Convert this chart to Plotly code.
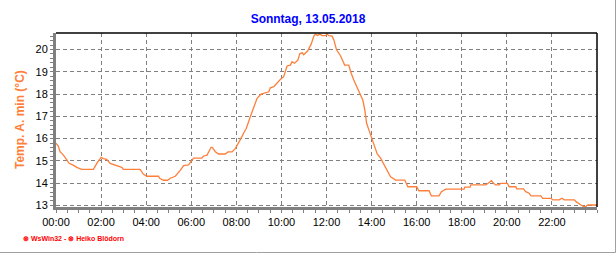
import plotly.graph_objects as go

# ---- data (hours since midnight, temperature °C) ----
hours = [0.00, 0.10, 0.18, 0.33, 0.48, 0.58, 0.74, 0.92, 1.14, 1.66, 1.81, 2.00, 2.10, 2.25, 2.40,
         2.62, 2.92, 2.99, 3.73, 3.88, 4.03, 4.55, 4.60, 4.77, 4.95, 5.07, 5.29, 5.51, 5.66, 5.88,
         6.03, 6.10, 6.47, 6.55, 6.70, 6.88, 6.93, 7.07, 7.21, 7.51, 7.63, 7.81, 7.96, 8.10, 8.25,
         8.32, 8.44, 8.62, 8.77, 8.92, 9.10, 9.29, 9.44, 9.51, 9.66, 9.96, 10.10, 10.25, 10.40,
         10.47, 10.58, 10.73, 10.82, 10.93, 10.99, 11.17, 11.32, 11.44, 11.51, 11.60, 11.70, 11.81,
         11.95, 12.03, 12.10, 12.25, 12.33, 12.44, 12.62, 12.77, 12.80, 12.99, 13.07, 13.21, 13.36,
         13.51, 13.61, 13.70, 13.78, 13.88, 13.99, 14.10, 14.25, 14.40, 14.55, 14.70, 14.84, 15.07,
         15.47, 15.61, 16.00, 16.10, 16.55, 16.65, 16.99, 17.10, 17.29, 18.10, 18.13, 18.37, 18.40,
         19.07, 19.17, 19.32, 19.41, 19.50, 19.66, 19.73, 20.03, 20.10, 20.40, 20.44, 20.74, 20.84,
         20.99, 21.07, 21.51, 21.59, 21.96, 22.04, 22.33, 22.44, 22.55, 23.00, 23.07, 23.15, 23.29,
         23.41, 23.50, 23.59, 24.00]
temps = [15.79, 15.67, 15.41, 15.26, 15.04, 14.89, 14.82, 14.71, 14.62, 14.62, 14.89, 15.16, 15.10, 15.07, 14.89,
         14.80, 14.71, 14.62, 14.62, 14.40, 14.31, 14.31, 14.22, 14.13, 14.13, 14.22, 14.31, 14.57, 14.79, 14.82,
         15.04, 15.12, 15.12, 15.22, 15.26, 15.61, 15.61, 15.41, 15.31, 15.31, 15.40, 15.40, 15.56, 15.79, 16.09,
         16.24, 16.45, 16.98, 17.43, 17.81, 18.00, 18.06, 18.10, 18.28, 18.33, 18.66, 18.78, 19.26, 19.30,
         19.45, 19.38, 19.52, 19.82, 19.85, 19.76, 19.94, 20.24, 20.60, 20.69, 20.63, 20.69, 20.62,
         20.62, 20.69, 20.62, 20.60, 20.42, 20.00, 19.72, 19.38, 19.30, 19.30, 19.00, 18.63, 18.30,
         18.00, 17.73, 17.28, 16.69, 16.39, 16.06, 15.71, 15.31, 15.12, 14.82, 14.52, 14.29, 14.14,
         14.14, 13.84, 13.84, 13.66, 13.66, 13.43, 13.43, 13.62, 13.73, 13.73, 13.82, 13.82, 13.92,
         13.92, 13.99, 14.11, 13.99, 13.92, 13.92, 13.99, 13.99, 13.84, 13.84, 13.74, 13.74, 13.62,
         13.55, 13.43, 13.43, 13.32, 13.32, 13.25, 13.25, 13.32, 13.25, 13.25, 13.17, 13.10, 13.02,
         12.95, 12.95, 13.02, 13.02]

x_tick_vals = [0, 2, 4, 6, 8, 10, 12, 14, 16, 18, 20, 22]
x_tick_text = ["00:00", "02:00", "04:00", "06:00", "08:00", "10:00", "12:00",
               "14:00", "16:00", "18:00", "20:00", "22:00"]
y_tick_vals = [13, 14, 15, 16, 17, 18, 19, 20]

title_text = "Sonntag, 13.05.2018"
y_title = "Temp. A. min (°C)"
footer = "⊗ WsWin32 - ⊗ Heiko Blödorn"

W, H = 616, 253
L, R, T, B = 56, 19, 33, 46
pw = W - L - R
ph = H - T - B

fig = go.Figure()
fig.add_trace(go.Scatter(x=hours, y=temps, mode="lines",
                         line=dict(color="#FF7F3A", width=1.3), showlegend=False,
                         hoverinfo="skip"))

grid = dict(showgrid=True, gridcolor="#808080", griddash="4px,3px", gridwidth=1)
fig.update_layout(
    width=W, height=H,
    margin=dict(l=L, r=R, t=T, b=B),
    paper_bgcolor="white", plot_bgcolor="white",
    font=dict(family="Liberation Sans, Arial", size=11, color="black"),
    title=dict(text="<b>" + title_text + "</b>", x=0.5, xref="container", xanchor="center",
               y=1 - 19 / H, yref="container", yanchor="middle",
               font=dict(color="#0000FF", size=12, family="Liberation Sans, Arial")),
    xaxis=dict(range=[0, 24], tickvals=x_tick_vals, ticktext=x_tick_text,
               showline=True, linecolor="#808080", linewidth=3,
               ticks="outside", ticklen=3, tickcolor="#808080", tickwidth=1,
               minor=dict(dtick=0.5, ticks="outside", ticklen=3, tickcolor="#808080", showgrid=False),
               zeroline=False, fixedrange=True, **grid),
    yaxis=dict(range=[12.93, 20.74], tickvals=y_tick_vals,
               showline=True, linecolor="#808080", linewidth=3,
               ticks="outside", ticklen=3, tickcolor="#808080", tickwidth=1,
               minor=dict(dtick=0.2, ticks="outside", ticklen=3, tickcolor="#808080", showgrid=False),
               zeroline=False, fixedrange=True, **grid),
)

# black top and right border
fig.add_shape(type="line", xref="paper", yref="paper", x0=0, x1=1, y0=1, y1=1,
              line=dict(color="black", width=1.5))
fig.add_shape(type="line", xref="paper", yref="paper", x0=1, x1=1, y0=0, y1=1,
              line=dict(color="black", width=1.5))
# outer light-gray frame (right and bottom)
fx = (615.5 - L) / pw
fy = -(252.5 - (T + ph)) / ph
fig.add_shape(type="line", xref="paper", yref="paper", x0=fx, x1=fx, y0=fy, y1=(T + ph) / ph,
              line=dict(color="#A0A0A0", width=1))
fig.add_shape(type="line", xref="paper", yref="paper", x0=-L / pw, x1=fx, y0=fy, y1=fy,
              line=dict(color="#A0A0A0", width=1))

fig.add_annotation(text="<b>" + y_title + "</b>", textangle=-90, xref="paper", yref="paper",
                   x=(20 - L) / pw, y=0.5, xanchor="center", yanchor="middle", showarrow=False,
                   font=dict(color="#FF7F3A", size=12, family="Liberation Sans, Arial"))
fig.add_annotation(text="<b>" + footer + "</b>", xref="paper", yref="paper",
                   x=(21 - L) / pw, y=-(238 - (T + ph)) / ph, xanchor="left", yanchor="middle",
                   showarrow=False,
                   font=dict(color="#FF0000", size=7, family="Liberation Sans, Arial"))

fig.write_html("out.html")
